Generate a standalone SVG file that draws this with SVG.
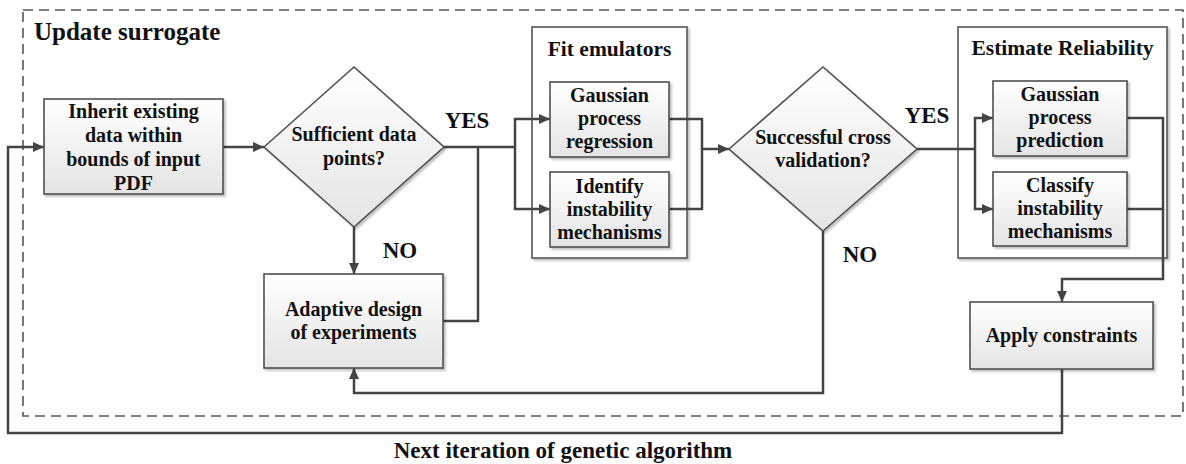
<svg xmlns="http://www.w3.org/2000/svg" width="1186" height="464" viewBox="0 0 1186 464">
<defs>
<linearGradient id="g" x1="0" y1="0" x2="0" y2="1">
<stop offset="0" stop-color="#ffffff"/>
<stop offset="1" stop-color="#e4e4e4"/>
</linearGradient>
<filter id="sh" x="-10%" y="-10%" width="125%" height="125%">
<feDropShadow dx="2" dy="2" stdDeviation="1.2" flood-color="#000" flood-opacity="0.25"/>
</filter>
<marker id="ah" markerUnits="userSpaceOnUse" markerWidth="12" markerHeight="10" refX="11" refY="5" orient="auto">
<path d="M0,0 L11,5 L0,10 z" fill="#444"/>
</marker>
</defs>
<style>
text{font-family:"Liberation Serif","Times New Roman",serif;font-weight:bold;fill:#111;}
.t{font-size:20px;text-anchor:middle;}
.ct{font-size:21.5px;text-anchor:middle;}
.lb{font-size:23px;}
.node{fill:url(#g);stroke:#505050;stroke-width:1.6;filter:url(#sh);}
.cont{fill:#fff;stroke:#555;stroke-width:1.6;filter:url(#sh);}
.c{fill:none;stroke:#444;stroke-width:2.5;}
.a{marker-end:url(#ah);}
</style>
<rect x="0" y="0" width="1186" height="464" fill="#fff"/>
<g id="surrogate">
<rect x="23" y="10" width="1160" height="406" fill="none" stroke="#555" stroke-width="1.6" stroke-dasharray="10,6"/>
<text x="34" y="40" font-size="25">Update surrogate</text>
</g>
<g id="fit-emulators">
<rect class="cont" x="532" y="27" width="155" height="231"/>
<text class="ct" x="609.5" y="56">Fit emulators</text>
</g>
<g id="estimate-reliability">
<rect class="cont" x="958" y="27" width="209" height="231"/>
<text class="ct" x="1062.5" y="55">Estimate Reliability</text>
</g>
<g id="connectors">
<path class="c a" d="M223,147 L264,147"/>
<path class="c" d="M444,147 L515,147"/>
<path class="c a" d="M515,147 L515,119 L550,119"/>
<path class="c a" d="M515,147 L515,209 L550,209"/>
<path class="c" d="M443,321 L478,321 L478,147"/>
<path class="c a" d="M354,227 L354,274"/>
<path class="c" d="M669,119 L702,119 L702,209 L669,209"/>
<path class="c a" d="M702,149 L729,149"/>
<path class="c" d="M917,149 L975,149"/>
<path class="c a" d="M975,149 L975,118 L993,118"/>
<path class="c a" d="M975,149 L975,209 L993,209"/>
<path class="c" d="M1127,118 L1163,118 L1163,209 L1127,209"/>
<path class="c a" d="M1163,209 L1163,279 L1062,279 L1062,302"/>
<path class="c a" d="M823,231 L823,393 L354,393 L354,368"/>
<path class="c a" d="M1062,369 L1062,433 L8,433 L8,147 L44,147"/>
<text class="lb" x="467" y="128" text-anchor="middle">YES</text>
<text class="lb" x="400" y="258" text-anchor="middle">NO</text>
<text class="lb" x="927" y="123" text-anchor="middle">YES</text>
<text class="lb" x="860" y="262" text-anchor="middle">NO</text>
<text class="lb" x="563" y="458" text-anchor="middle">Next iteration of genetic algorithm</text>
</g>
<g id="inherit">
<rect class="node" x="44" y="99" width="179" height="95"/>
<text class="t" x="133.5" y="118">Inherit existing</text>
<text class="t" x="133.5" y="142">data within</text>
<text class="t" x="133.5" y="166">bounds of input</text>
<text class="t" x="133.5" y="190">PDF</text>
</g>
<g id="sufficient">
<polygon class="node" points="264,147 354,67 444,147 354,227"/>
<text class="t" x="354" y="141">Sufficient data</text>
<text class="t" x="354" y="165">points?</text>
</g>
<g id="adaptive">
<rect class="node" x="264" y="274" width="179" height="94"/>
<text class="t" x="353.5" y="316">Adaptive design</text>
<text class="t" x="353.5" y="339">of experiments</text>
</g>
<g id="gpr">
<rect class="node" x="550" y="82" width="119" height="75"/>
<text class="t" x="609.5" y="102">Gaussian</text>
<text class="t" x="609.5" y="125">process</text>
<text class="t" x="609.5" y="148">regression</text>
</g>
<g id="identify">
<rect class="node" x="550" y="172" width="119" height="75"/>
<text class="t" x="609.5" y="193">Identify</text>
<text class="t" x="609.5" y="216">instability</text>
<text class="t" x="609.5" y="239">mechanisms</text>
</g>
<g id="cross-validation">
<polygon class="node" points="729,149 823,67 917,149 823,231"/>
<text class="t" x="823" y="144">Successful cross</text>
<text class="t" x="823" y="167">validation?</text>
</g>
<g id="gpp">
<rect class="node" x="993" y="81" width="134" height="75"/>
<text class="t" x="1060" y="101">Gaussian</text>
<text class="t" x="1060" y="124">process</text>
<text class="t" x="1060" y="147">prediction</text>
</g>
<g id="classify">
<rect class="node" x="993" y="172" width="134" height="74"/>
<text class="t" x="1060" y="192">Classify</text>
<text class="t" x="1060" y="215">instability</text>
<text class="t" x="1060" y="238">mechanisms</text>
</g>
<g id="apply">
<rect class="node" x="970" y="302" width="183" height="67"/>
<text class="t" x="1061.5" y="342">Apply constraints</text>
</g>
</svg>
